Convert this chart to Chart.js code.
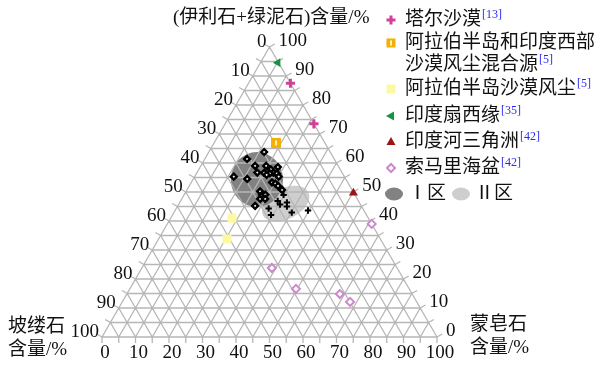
<!DOCTYPE html>
<html>
<head>
<meta charset="utf-8">
<script src="https://cdn.jsdelivr.net/npm/chart.js@4.4.1/dist/chart.umd.min.js"></script>
<style>
  html, body { margin: 0; padding: 0; background: #fff; }
  #wrap { width: 606px; height: 365px; position: relative; }
</style>
</head>
<body>
<div id="wrap"><canvas id="c"></canvas></div>
<script>
// Clay mineral composition (%): I+C = illite + chlorite (top apex),
// Sm = smectite (bottom-right apex); palygorskite = 100 - I+C - Sm.
const tharIC = [87.5, 73.5];
const tharSm = [12.5, 26.5];
const mixedIC = [66.9];
const mixedSm = [18.5];
const arabIC = [41.0, 33.8];
const arabSm = [18.3, 20.4];
const fanIC = [94.6];
const fanSm = [5.2];
const deltaIC = [49.7];
const deltaSm = [50.2];
const somaliIC = [39.0, 23.8, 16.6, 14.8, 12.1];
const somaliSm = [61.0, 38.8, 49.6, 63.6, 68.0];
const sampleAIC = [63.8, 61.4, 55.3, 54.5, 59.0, 59.0, 58.6, 56.7, 56.6, 57.8, 56.7, 56.4, 56.4,
                   55.3, 55.9, 53.3, 52.9, 52.1, 50.7, 50.2, 49.0, 49.1, 47.6, 47.6, 45.2];
const sampleASm = [16.5, 12.6, 11.7, 16.1, 16.2, 19.5, 23.2, 18.0, 20.1, 21.5, 22.8, 21.9, 24.0,
                   25.1, 21.2, 24.1, 25.3, 26.5, 28.4, 22.1, 23.3, 24.2, 23.4, 24.9, 23.1];
const sampleBIC = [49.0, 46.9, 45.7, 46.4, 45.0, 44.3, 42.1, 42.9, 43.6];
const sampleBSm = [29.7, 29.0, 30.3, 32.0, 32.7, 27.6, 29.4, 35.2, 39.7];

// Axis tick values (%)
const tickValues = [0, 10, 20, 30, 40, 50, 60, 70, 80, 90, 100];
const gridStep = 5;

// Zone outlines: centre (I+C, Sm), semi-axes in % units, tilt in degrees
const zoneII = { ic: 46.0, sm: 31.8, rx: 7.6, ry: 4.6, tilt: -27, color: '#cecece' };
const zoneI  = { ic: 54.3, sm: 19.1, rx: 7.8, ry: 8.2, tilt: 0,   color: '#828282' };

const SQ = Math.sqrt(3) / 2;
function toXY(ic, sm) { return { x: sm + ic / 2, y: ic * SQ }; }
function points(ic, sm) { return ic.map((v, i) => toXY(v, sm[i])); }

const GRID = '#b6b6b6';
const NUM_FONT = "19px 'Liberation Serif', 'Noto Sans CJK SC'";
const TXT_FONT = "19px 'Liberation Serif', 'Noto Sans CJK SC'";
const SUP_FONT = "12px 'Liberation Serif'";

const legendItems = [
  { lines: ['塔尔沙漠'], ref: '[13]', y: 20, marker: 'cross', color: '#d2409a' },
  { lines: ['阿拉伯半岛和印度西部', '沙漠风尘混合源'], ref: '[5]', y: 43, marker: 'orange' },
  { lines: ['阿拉伯半岛沙漠风尘'], ref: '[5]', y: 89, marker: 'yellow' },
  { lines: ['印度扇西缘'], ref: '[35]', y: 116, marker: 'triLeft', color: '#16933f' },
  { lines: ['印度河三角洲'], ref: '[42]', y: 142, marker: 'triUp', color: '#9a1616' },
  { lines: ['索马里海盆'], ref: '[42]', y: 168, marker: 'diamond', color: '#cc8acc' }
];

function drawMarker(c, type, x, y, color) {
  c.save();
  c.beginPath();
  if (type === 'cross') {
    c.strokeStyle = color; c.lineWidth = 3;
    c.moveTo(x - 4.5, y); c.lineTo(x + 4.5, y);
    c.moveTo(x, y - 4.5); c.lineTo(x, y + 4.5);
    c.stroke();
  } else if (type === 'orange') {
    c.fillStyle = '#f4b000'; c.fillRect(x - 4.5, y - 4.5, 9, 9);
    c.fillStyle = '#fff6c0'; c.fillRect(x - 1, y - 2.5, 2, 5);
  } else if (type === 'yellow') {
    c.fillStyle = '#fdf9a2'; c.fillRect(x - 4.5, y - 4.5, 9, 9);
  } else if (type === 'triLeft') {
    c.fillStyle = color;
    c.moveTo(x - 5, y); c.lineTo(x + 3, y - 4.5); c.lineTo(x + 3, y + 4.5); c.closePath(); c.fill();
  } else if (type === 'triUp') {
    c.fillStyle = color;
    c.moveTo(x, y - 5); c.lineTo(x + 4.5, y + 3); c.lineTo(x - 4.5, y + 3); c.closePath(); c.fill();
  } else if (type === 'diamond') {
    c.strokeStyle = color; c.fillStyle = '#fff'; c.lineWidth = 2;
    c.moveTo(x - 4, y); c.lineTo(x, y - 4); c.lineTo(x + 4, y); c.lineTo(x, y + 4); c.closePath();
    c.fill(); c.stroke();
  }
  c.restore();
}

const ternaryPlugin = {
  id: 'ternary',
  beforeDatasetsDraw(chart) {
    const c = chart.ctx, sx = chart.scales.x, sy = chart.scales.y;
    const P = (ic, sm) => { const q = toXY(ic, sm); return [sx.getPixelForValue(q.x), sy.getPixelForValue(q.y)]; };
    const unit = sx.getPixelForValue(1) - sx.getPixelForValue(0);

    // shaded zones
    [zoneII, zoneI].forEach(z => {
      const [cx, cy] = P(z.ic, z.sm);
      c.save();
      c.fillStyle = z.color;
      c.beginPath();
      c.ellipse(cx, cy, z.rx * unit, z.ry * unit, z.tilt * Math.PI / 180, 0, Math.PI * 2);
      c.fill();
      c.restore();
    });

    // grid lines of the three components
    c.save();
    c.strokeStyle = GRID;
    c.lineWidth = 1.3;
    c.beginPath();
    for (let v = gridStep; v < 100; v += gridStep) {
      let a = P(v, 0), b = P(v, 100 - v);            // constant I+C
      c.moveTo(a[0], a[1]); c.lineTo(b[0], b[1]);
      a = P(0, v); b = P(100 - v, v);                  // constant smectite
      c.moveTo(a[0], a[1]); c.lineTo(b[0], b[1]);
      a = P(100 - v, 0); b = P(0, 100 - v);            // constant palygorskite
      c.moveTo(a[0], a[1]); c.lineTo(b[0], b[1]);
    }
    const A = P(0, 0), B = P(0, 100), C = P(100, 0);
    c.moveTo(A[0], A[1]); c.lineTo(B[0], B[1]); c.lineTo(C[0], C[1]); c.closePath();
    // outward ticks
    const L = 6;
    for (let v = 0; v <= 100; v += gridStep) {
      let p = P(0, v);                                  // bottom edge
      c.moveTo(p[0], p[1]); c.lineTo(p[0], p[1] + L);
      p = P(v, 100 - v);                                // right edge
      c.moveTo(p[0], p[1]); c.lineTo(p[0] + L * SQ, p[1] - L / 2);
      p = P(100 - v, 0);                                // left edge
      c.moveTo(p[0], p[1]); c.lineTo(p[0] - L * SQ, p[1] - L / 2);
    }
    c.stroke();
    c.restore();
  },
  afterDatasetsDraw(chart) {
    const c = chart.ctx, sx = chart.scales.x, sy = chart.scales.y;
    const P = (ic, sm) => { const q = toXY(ic, sm); return [sx.getPixelForValue(q.x), sy.getPixelForValue(q.y)]; };
    c.save();
    c.fillStyle = '#111';
    c.font = NUM_FONT;
    c.textBaseline = 'middle';
    tickValues.forEach(v => {
      // palygorskite along the left edge
      let p = P(100 - v, 0);
      c.textAlign = 'right';
      c.fillText(String(v), p[0] - 3, p[1] - 5);
      // I+C along the right edge
      p = P(v, 100 - v);
      c.textAlign = 'left';
      c.fillText(String(v), p[0] + 9, p[1] - 6);
      // smectite along the bottom
      p = P(0, v);
      c.textAlign = 'center';
      c.fillText(String(v), p[0] + 3, p[1] + 16);
    });

    // axis titles
    c.font = TXT_FONT;
    c.textAlign = 'left';
    c.fillText('(伊利石+绿泥石)含量/%', 173, 18);
    c.fillText('坡缕石', 8, 327);
    c.fillText('含量/%', 8, 350);
    c.fillText('蒙皂石', 470, 325);
    c.fillText('含量/%', 470, 348);

    // legend
    const lx = 405, mx = 391;
    legendItems.forEach(it => {
      drawMarker(c, it.marker, mx, it.y, it.color);
      c.font = TXT_FONT;
      c.fillStyle = '#111';
      it.lines.forEach((t, k) => {
        const y = it.y + k * 22;
        c.fillText(t, lx, y);
        if (k === it.lines.length - 1) {
          const w = c.measureText(t).width;
          c.font = SUP_FONT;
          c.fillStyle = '#2b2bf0';
          c.fillText(it.ref, lx + w + 1, y - 5);
          c.font = TXT_FONT;
          c.fillStyle = '#111';
        }
      });
    });
    // zone legend
    const zy = 194;
    c.fillStyle = zoneI.color;
    c.beginPath(); c.ellipse(394, zy, 9, 6.5, 0, 0, Math.PI * 2); c.fill();
    c.fillStyle = zoneII.color;
    c.beginPath(); c.ellipse(461, zy, 9, 6.5, 0, 0, Math.PI * 2); c.fill();
    c.fillStyle = '#111';
    c.font = TXT_FONT;
    c.fillText('Ⅰ区', 408, zy);
    c.fillText('Ⅱ区', 475, zy);
    c.restore();
  }
};

new Chart(document.getElementById('c'), {
  type: 'scatter',
  data: {
    datasets: [
      { label: 'Ⅰ区', data: points(sampleAIC, sampleASm), pointStyle: 'rectRot', pointRadius: 2.9,
        borderWidth: 2.4, borderColor: '#000', backgroundColor: '#fff', order: 0 },
      { label: 'Ⅱ区', data: points(sampleBIC, sampleBSm), pointStyle: 'cross', pointRadius: 3.2,
        borderWidth: 2, borderColor: '#000', backgroundColor: '#000', order: 0 },
      { label: '塔尔沙漠', data: points(tharIC, tharSm), pointStyle: 'cross', pointRadius: 4.6,
        borderWidth: 3, borderColor: '#d2409a', backgroundColor: '#d2409a', order: 1 },
      { label: '阿拉伯半岛和印度西部沙漠风尘混合源', data: points(mixedIC, mixedSm), pointStyle: 'rect', pointRadius: 6.4,
        borderWidth: 1, borderColor: '#f4b000', backgroundColor: '#f4b000', order: 2 },
      { label: '混合源内芯', data: points(mixedIC, mixedSm), pointStyle: 'line', pointRotation: 90, pointRadius: 2.5,
        borderWidth: 2, borderColor: '#fff3b8', backgroundColor: '#fff3b8', order: 1 },
      { label: '阿拉伯半岛沙漠风尘', data: points(arabIC, arabSm), pointStyle: 'rect', pointRadius: 6.4,
        borderWidth: 0, borderColor: '#fdf9a2', backgroundColor: '#fdf9a2', order: 1 },
      { label: '印度扇西缘', data: points(fanIC, fanSm), pointStyle: 'triangle', pointRotation: -90, pointRadius: 5,
        borderWidth: 0, borderColor: '#16933f', backgroundColor: '#16933f', order: 1 },
      { label: '印度河三角洲', data: points(deltaIC, deltaSm), pointStyle: 'triangle', pointRadius: 5.2,
        borderWidth: 0, borderColor: '#9a1616', backgroundColor: '#9a1616', order: 1 },
      { label: '索马里海盆', data: points(somaliIC, somaliSm), pointStyle: 'rectRot', pointRadius: 4,
        borderWidth: 2, borderColor: '#cc8acc', backgroundColor: '#fff', order: 1 }
    ]
  },
  options: {
    responsive: true,
    maintainAspectRatio: false,
    animation: false,
    devicePixelRatio: 1,
    events: [],
    layout: { padding: { left: 102, right: 169, top: 47, bottom: 28 } },
    scales: {
      x: { type: 'linear', min: 0, max: 100, display: false },
      y: { type: 'linear', min: 0, max: 100 * SQ, display: false }
    },
    plugins: { legend: { display: false }, tooltip: { enabled: false } }
  },
  plugins: [ternaryPlugin]
});
</script>
</body>
</html>
